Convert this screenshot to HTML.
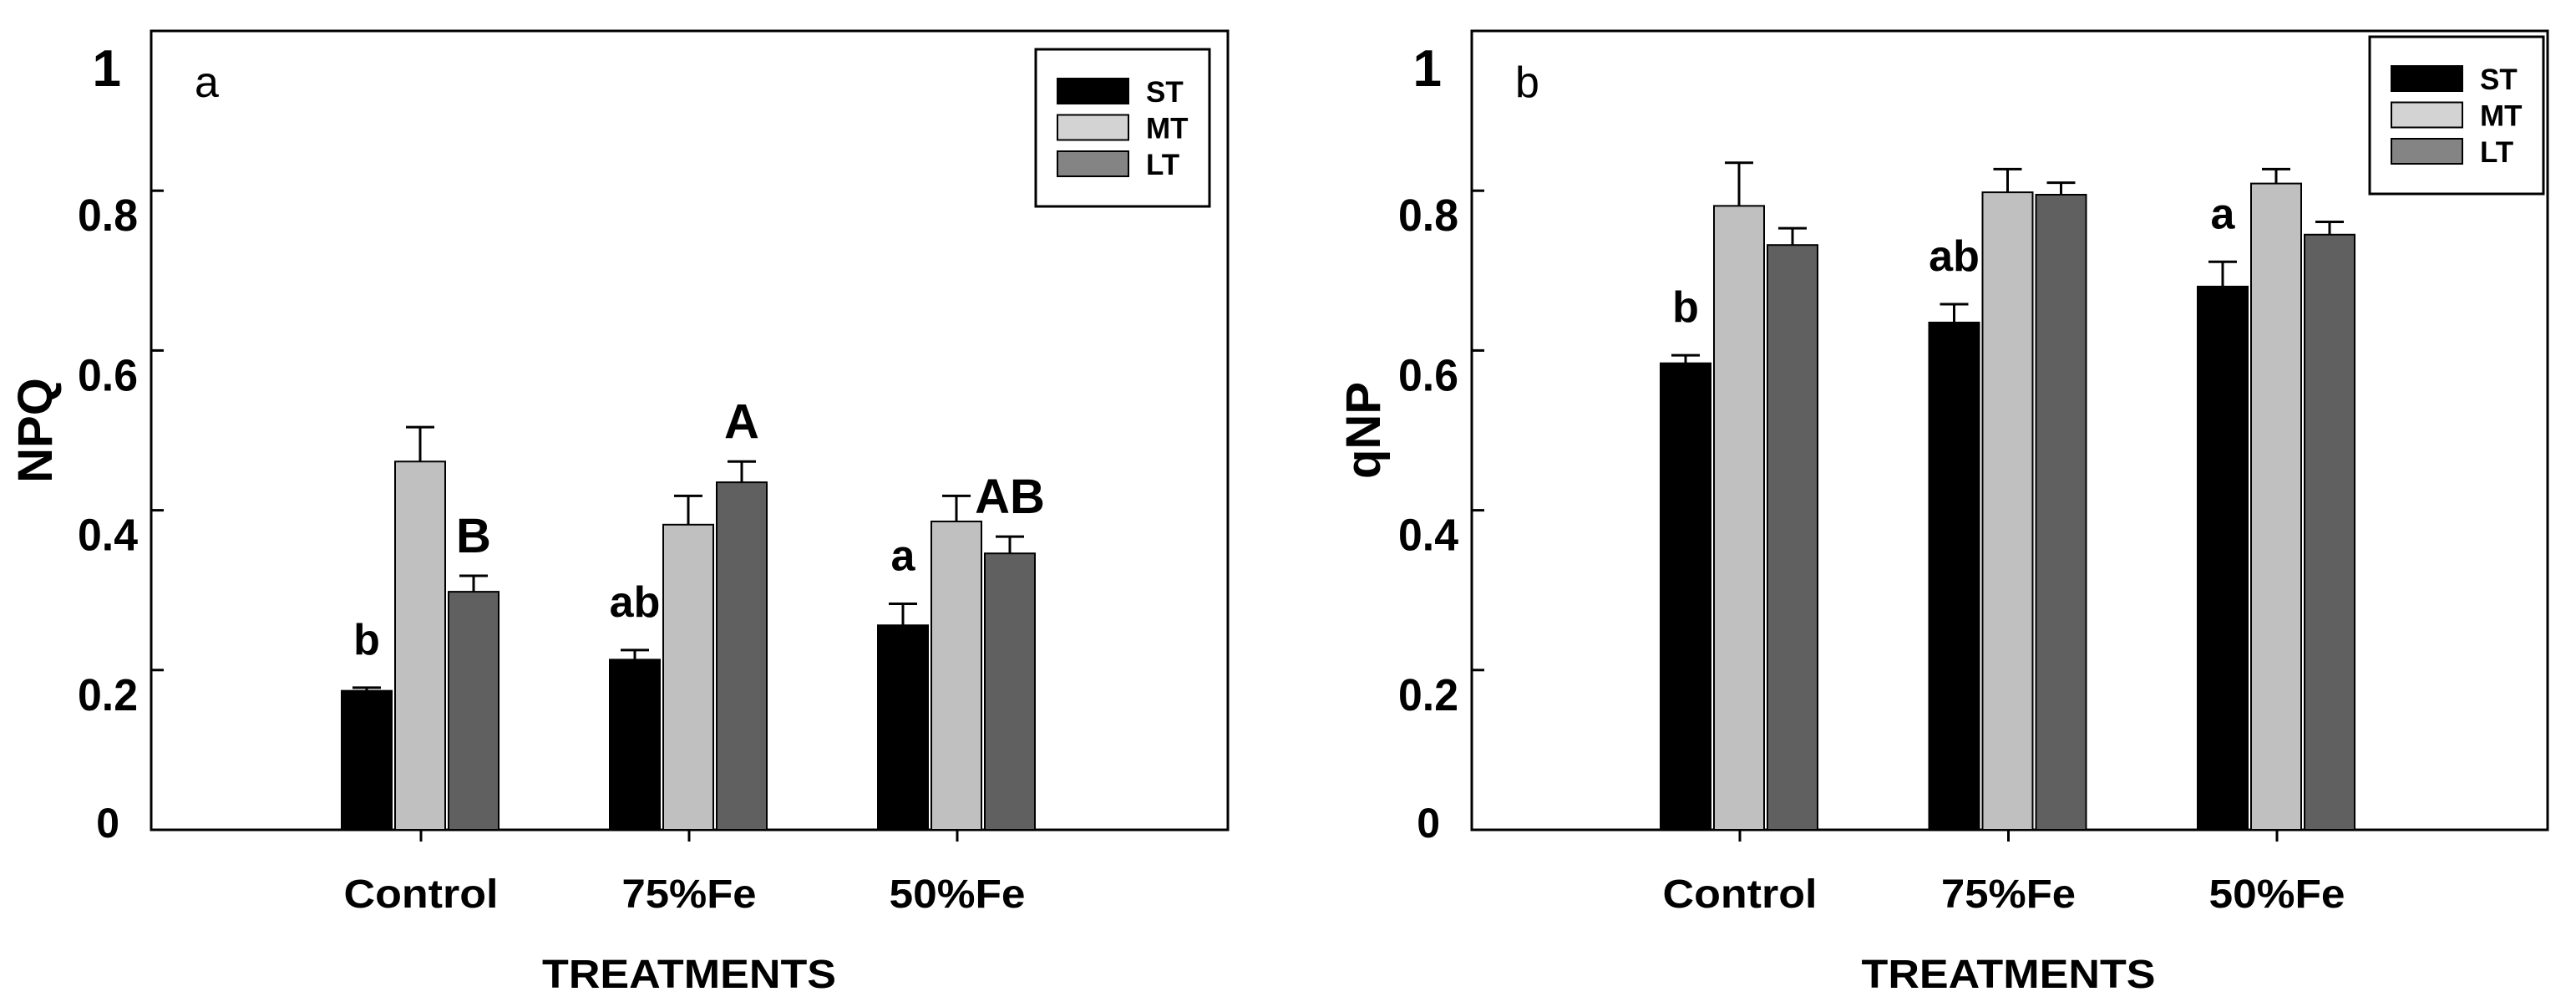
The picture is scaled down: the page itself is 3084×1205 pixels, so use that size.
<!DOCTYPE html>
<html><head><meta charset="utf-8"><style>
html,body{margin:0;padding:0;background:#fff;}
svg{display:block;}
text{font-family:"Liberation Sans Narrow","Liberation Sans",sans-serif;font-weight:bold;fill:#000;}
</style></head><body>
<svg id="fig" width="3084" height="1205" viewBox="0 0 3084 1205" xmlns="http://www.w3.org/2000/svg"></svg>
<script>
const categories = ["Control", "75%Fe", "50%Fe"];
const seriesNames = ["ST", "MT", "LT"];
const yTicks = [0, 0.2, 0.4, 0.6, 0.8, 1];
const yTickLabels = ["0", "0.2", "0.4", "0.6", "0.8", "1"];
const npqST = [0.174, 0.213, 0.256];
const npqMT = [0.461, 0.382, 0.386];
const npqLT = [0.298, 0.435, 0.346];
const npqErrST = [0.004, 0.012, 0.027];
const npqErrMT = [0.043, 0.036, 0.032];
const npqErrLT = [0.020, 0.026, 0.021];
const npqLetters = [["b", null, "B"], ["ab", null, "A"], ["a", null, "AB"]];
const qnpST = [0.584, 0.635, 0.680];
const qnpMT = [0.781, 0.798, 0.809];
const qnpLT = [0.732, 0.795, 0.745];
const qnpErrST = [0.010, 0.023, 0.031];
const qnpErrMT = [0.054, 0.029, 0.018];
const qnpErrLT = [0.021, 0.015, 0.016];
const qnpLetters = [["b", null, null], ["ab", null, null], ["a", null, null]];

const NS = "http://www.w3.org/2000/svg";
const svg = document.getElementById("fig");
function mk(tag, attrs, parent, txt) {
  const e = document.createElementNS(NS, tag);
  for (const k in attrs) e.setAttribute(k, attrs[k]);
  if (txt !== undefined) e.textContent = txt;
  (parent || svg).appendChild(e);
  return e;
}
const fills = ["#000000", "#c0c0c0", "#606060"];
const legFills = ["#000000", "#d3d3d3", "#848484"];

function panel(p) {
  const g = mk("g", {});
  
  
  const y = v => p.bottom - (v - 0) / (1 - 0) * (p.bottom - p.top);
  const x = i => p.x0 + i * p.dx;
  const fr = mk("rect", {x: p.left, y: p.top, width: p.right - p.left, height: p.bottom - p.top, fill: "none", stroke: "#000", "stroke-width": 3}, g);
  
  
  yTicks.forEach((t, i) => {
    if (t > 0 && t < 1) {
      const tk = mk("line", {x1: p.left, x2: p.left + 15, y1: y(t), y2: y(t), stroke: "#000", "stroke-width": 3}, g);
      
      
    }
    let attrs;
    if (t === 1) attrs = {x: p.left - 36, y: y(t) + 66, "font-size": 62, "text-anchor": "end"};
    else if (t === 0) attrs = {x: p.left - 38, y: y(t) + 9, "font-size": 50, "text-anchor": "end"};
    else attrs = {x: p.left - 16, y: y(t) + 48, "font-size": 54, "text-anchor": "end", textLength: 72, lengthAdjust: "spacingAndGlyphs"};
    const lab = mk("text", attrs, g, yTickLabels[i]);
    
    
  });
  categories.forEach((c, i) => {
    const tk = mk("line", {x1: x(i), x2: x(i), y1: p.bottom, y2: p.bottom + 14, stroke: "#000", "stroke-width": 3}, g);
    
    
    const lab = mk("text", {x: x(i), y: 1086, "font-size": 48, "text-anchor": "middle", textLength: [185, 161, 163][i], lengthAdjust: "spacingAndGlyphs"}, g, c);
    
    
  });
  const offs = [-95, -31, 33];
  const bw = 60;
  p.series.forEach((vals, s) => {
    vals.forEach((v, i) => {
      const bx = x(i) + offs[s];
      const e = p.errs[s][i];
      const ex = bx + bw / 2;
      const el = mk("line", {x1: ex, x2: ex, y1: y(v), y2: y(v + e), stroke: "#000", "stroke-width": 3}, g);
      
      
      const ec = mk("line", {x1: ex - 17, x2: ex + 17, y1: y(v + e), y2: y(v + e), stroke: "#000", "stroke-width": 3}, g);
      
      
      const r = mk("rect", {x: bx, y: y(v), width: bw, height: p.bottom - y(v), fill: fills[s], stroke: "#000", "stroke-width": 2}, g);
      
      
      const L = p.letters[i][s];
      if (L) {
        const big = L === L.toUpperCase();
        const t = mk("text", {x: ex, y: y(v + e) - (big ? 28 : 40), "font-size": big ? 58 : 52, "text-anchor": "middle"}, g, L);
        
        
      }
    });
  });
  const pl = mk("text", {x: p.left + 52, y: 116, "font-size": 52, style: "font-weight:normal;font-family:'Liberation Sans',sans-serif"}, g, p.tag);
  
  
  const lg = mk("g", {}, g);
  
  
  mk("rect", {x: p.legX, y: p.legY, width: 208, height: 188, fill: "#fff", stroke: "#000", "stroke-width": 3}, lg);
  seriesNames.forEach((n, s) => {
    const sw = mk("rect", {x: p.legX + 26, y: p.legY + 35 + s * 43.5, width: 85, height: 30, fill: legFills[s], stroke: "#000", "stroke-width": 2}, lg);
    
    
    const t = mk("text", {x: p.legX + 132, y: p.legY + 63 + s * 43.5, "font-size": 35}, lg, n);
    
    
  });
  const xt = mk("text", {x: x(1), y: 1182, "font-size": 48, "text-anchor": "middle", textLength: 352, lengthAdjust: "spacingAndGlyphs"}, g, "TREATMENTS");
  
  
  const yt = mk("text", {x: 0, y: 0, "font-size": 58, "text-anchor": "middle", transform: "translate(" + p.ytX + ",515) rotate(-90)"}, g, p.ytitle);
  
  
}

panel({name: "npq-panel", tag: "a", ytitle: "NPQ", left: 181, right: 1470, top: 37, bottom: 993, x0: 504, dx: 321, ytX: 62,
  series: [npqST, npqMT, npqLT], errs: [npqErrST, npqErrMT, npqErrLT], letters: npqLetters, legX: 1240, legY: 59});
panel({name: "qnp-panel", tag: "b", ytitle: "qNP", left: 1762, right: 3050, top: 37, bottom: 993, x0: 2083, dx: 321.5, ytX: 1652,
  series: [qnpST, qnpMT, qnpLT], errs: [qnpErrST, qnpErrMT, qnpErrLT], letters: qnpLetters, legX: 2837, legY: 44});
</script>
</body></html>
